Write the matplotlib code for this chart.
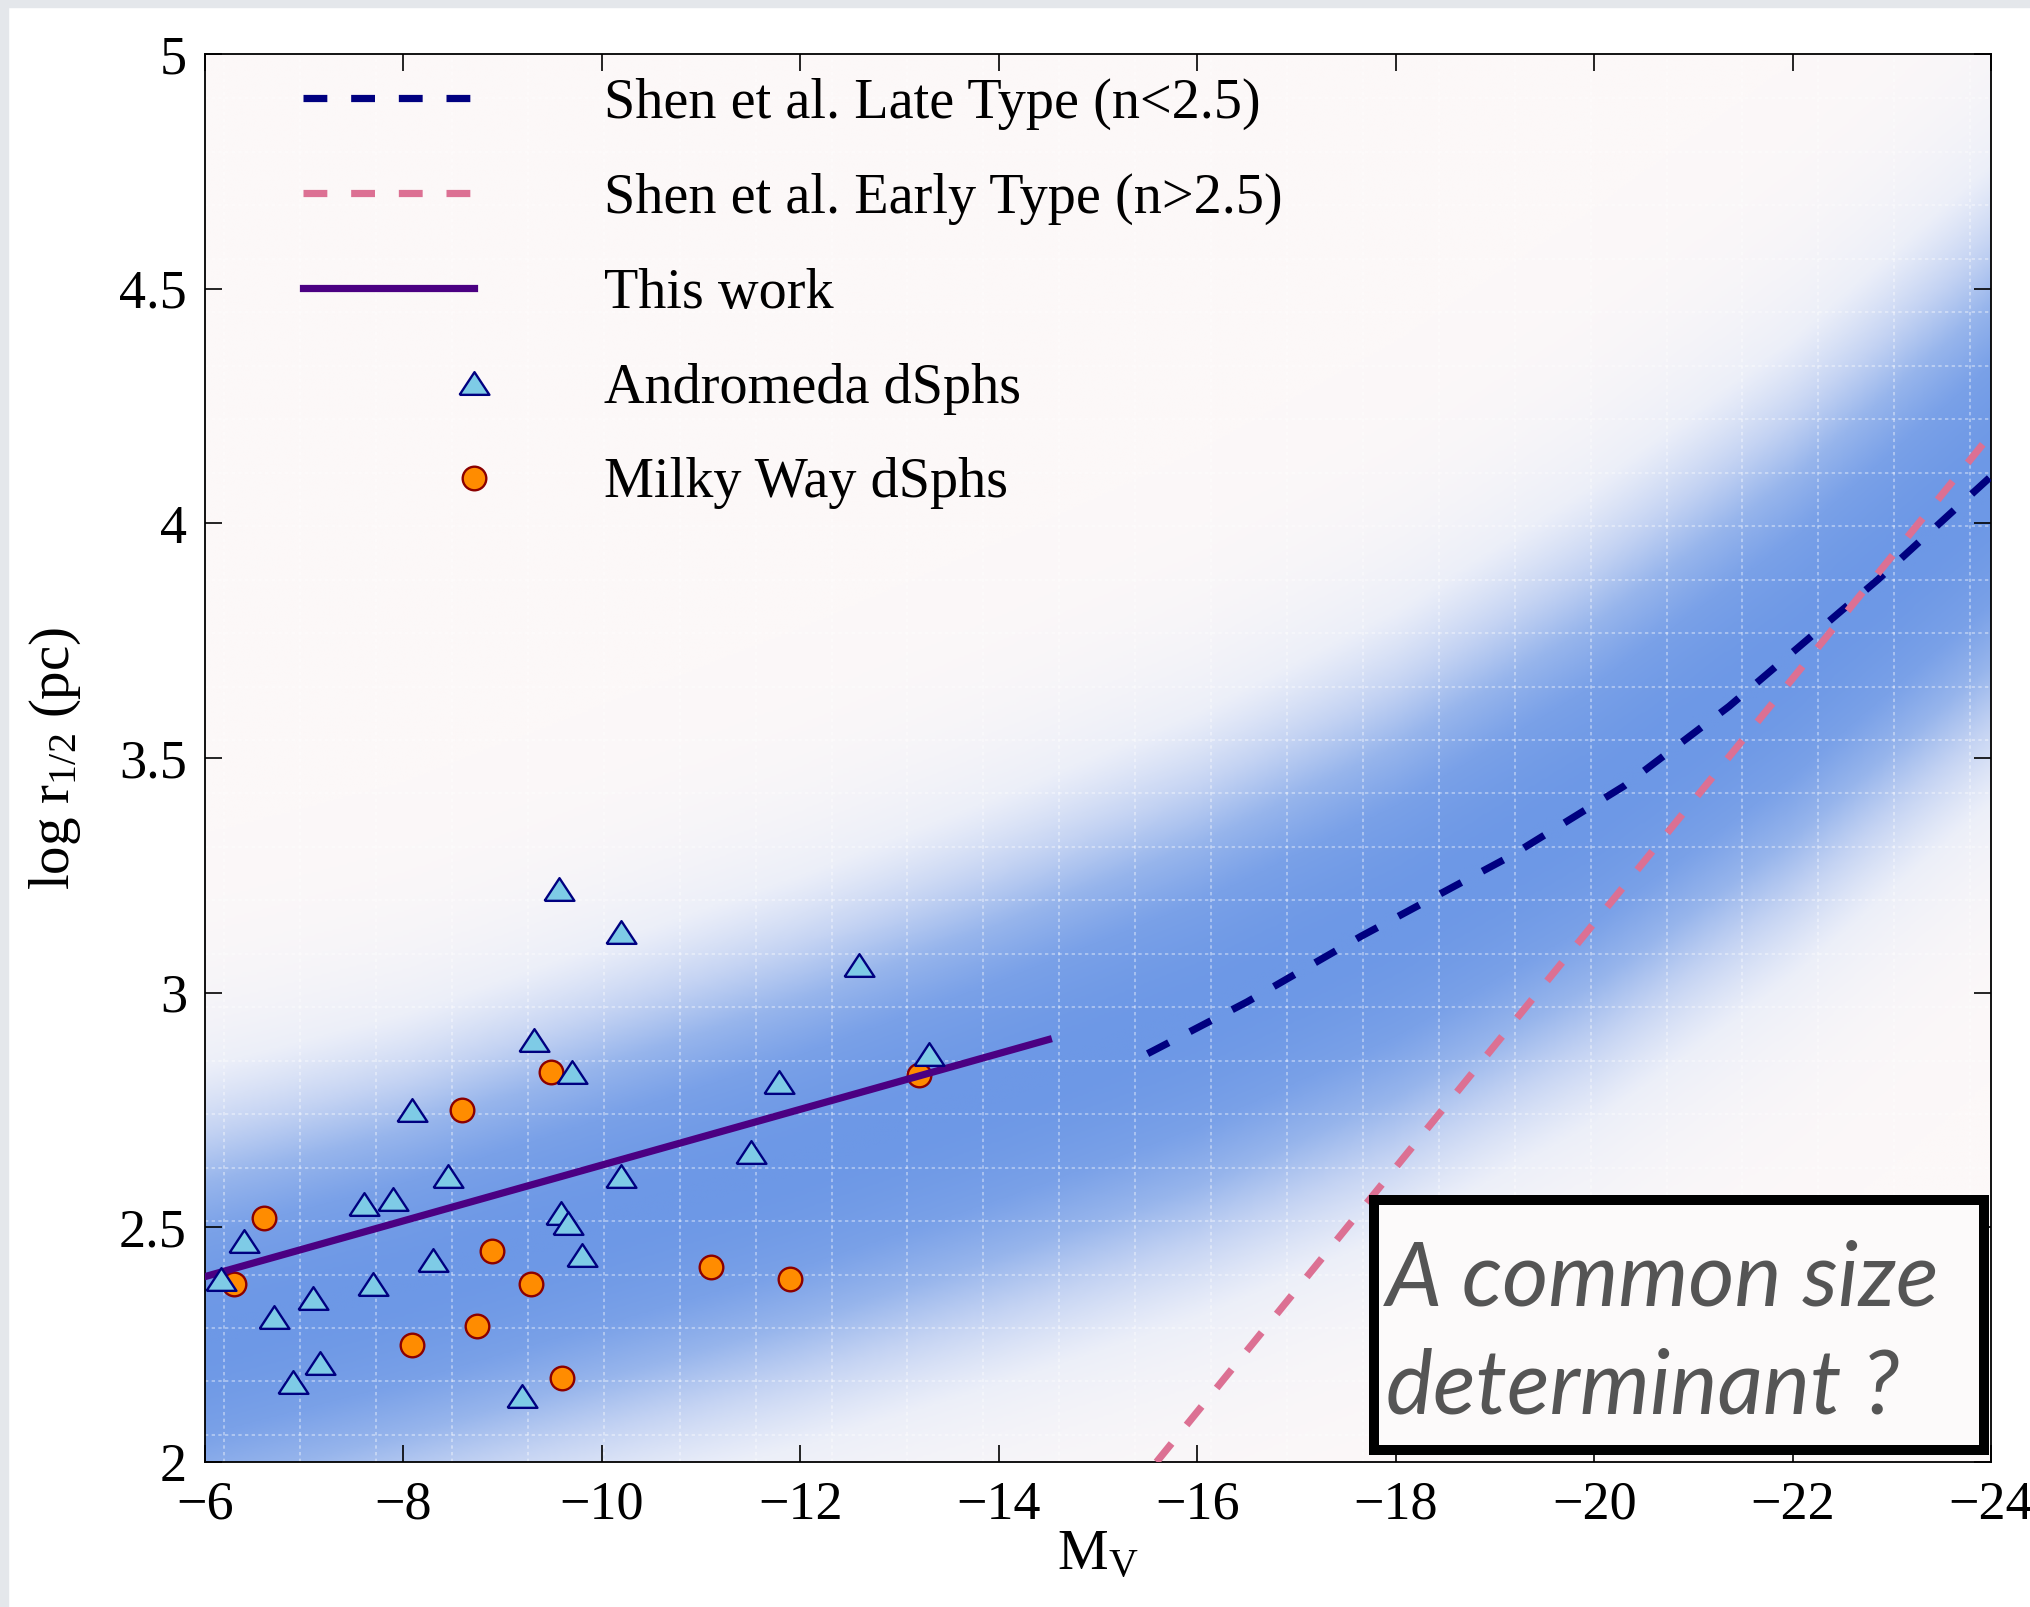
import numpy as np
import matplotlib
matplotlib.use('Agg')
import matplotlib.pyplot as plt
from matplotlib.colors import LinearSegmentedColormap
from matplotlib.legend_handler import HandlerLine2D
from matplotlib.lines import Line2D
from matplotlib.patches import Rectangle

plt.rcParams['font.family'] = ['Liberation Serif', 'DejaVu Serif']
plt.rcParams['mathtext.fontset'] = 'custom'
plt.rcParams['mathtext.rm'] = 'Liberation Serif'
plt.rcParams['mathtext.it'] = 'Liberation Serif:italic'

# Andromeda dSphs (M_V, log r_1/2)
m31_mv = [-9.57, -10.19, -9.32, -9.70, -8.09, -8.45, -7.89, -7.60, -10.19, -9.59,
          -9.66, -6.39, -8.30, -9.80, -6.16, -7.69, -7.09, -6.70, -7.16, -6.89,
          -9.19, -11.79, -12.59, -11.50, -13.30]
m31_lr = [3.22, 3.13, 2.90, 2.83, 2.75, 2.61, 2.56, 2.55, 2.61, 2.53,
          2.51, 2.47, 2.43, 2.44, 2.39, 2.38, 2.35, 2.31, 2.21, 2.17,
          2.14, 2.81, 3.06, 2.66, 2.87]

# Milky Way dSphs
mw_mv = [-6.29, -6.59, -8.09, -8.59, -8.74, -8.89, -9.29, -9.49, -9.60, -11.10, -11.90, -13.20]
mw_lr = [2.38, 2.52, 2.25, 2.75, 2.29, 2.45, 2.38, 2.83, 2.18, 2.415, 2.39, 2.825]

# relations
work_mv = [-6.0, -14.5]
work_lr = [2.395, 2.90]
late_mv = [-15.5, -16.5, -17.65, -19.15, -20.3, -21.36, -22.86, -24.0]
late_lr = [2.87, 2.98, 3.12, 3.29, 3.44, 3.61, 3.88, 4.10]
early_mv = [-15.59, -24.0]
early_lr = [2.0, 4.19]

# background density band (ridge and width)
band_mv = [-6, -8, -10, -12, -14, -16, -18, -20, -22, -24]
band_mid = [2.27, 2.38, 2.51, 2.64, 2.79, 2.95, 3.15, 3.40, 3.71, 4.08]
band_sig = [0.32, 0.32, 0.33, 0.34, 0.35, 0.36, 0.37, 0.38, 0.38, 0.38]

xticks = [-6, -8, -10, -12, -14, -16, -18, -20, -22, -24]
xlabels = ['\u22126', '\u22128', '\u221210', '\u221212', '\u221214', '\u221216',
           '\u221218', '\u221220', '\u221222', '\u221224']
yticks = [2, 2.5, 3, 3.5, 4, 4.5, 5]
ylabels = ['2', '2.5', '3', '3.5', '4', '4.5', '5']

W, H = 2031, 1607
fig = plt.figure(figsize=(W / 100, H / 100), dpi=100)
fig.patches.append(Rectangle((0, 1 - 7 / H), 1, 7 / H, transform=fig.transFigure,
                             color='#e4e7eb', zorder=0))
fig.patches.append(Rectangle((0, 0), 8 / W, 1, transform=fig.transFigure,
                             color='#e4e7eb', zorder=0))

ax = fig.add_axes([205 / W, 1 - 1462 / H, 1786 / W, 1408 / H])

# density band
gx = np.linspace(-6, -24, 600)
gy = np.linspace(2, 5, 600)
mid = np.interp(-gx, -np.array(band_mv), band_mid)
sig = np.interp(-gx, -np.array(band_mv), band_sig)
Z = np.exp(-0.5 * ((gy[:, None] - mid[None, :]) / sig[None, :]) ** 2)
band_cmap = LinearSegmentedColormap.from_list(
    'band', ['#fcf8f8', '#eceff9', '#c4d3f3', '#97b5ec', '#7aa1e8', '#6d98e6'])
ax.imshow(Z, extent=(-6, -24, 2, 5), origin='lower', aspect='auto', cmap=band_cmap,
          vmin=0, vmax=1, interpolation='bilinear', zorder=0)

# faint rendering grid seen on the band
for k in range(24):
    ax.axvline(-6.195 - 0.765 * k, color='white', lw=1.2, alpha=0.45,
               ls=(0, (2, 2)), zorder=0.5)
for k in range(-8, 19):
    ax.axhline(2.855 + 0.1139 * k, color='white', lw=1.2, alpha=0.45,
               ls=(0, (2, 2)), zorder=0.5)

ax.plot(late_mv, late_lr, color='#000080', lw=5.2, dashes=(3.3, 3.3),
        label='Shen et al. Late Type (n<2.5)', zorder=3)
ax.plot(early_mv, early_lr, color='#dc7093', lw=5.2, dashes=(3.3, 3.3),
        label='Shen et al. Early Type (n>2.5)', zorder=3)
ax.plot(work_mv, work_lr, color='#4b0082', lw=5.2, label='This work', zorder=4)

tri = [(-1, -0.76), (1, -0.76), (0, 0.76), (-1, -0.76)]
h_m31, = ax.plot(m31_mv, m31_lr, ls='none', marker=tri, ms=21.5, mfc='#7ecbe6',
                 mec='#000080', mew=1.7, label='Andromeda dSphs', zorder=5)
h_mw, = ax.plot(mw_mv, mw_lr, ls='none', marker='o', ms=17, mfc='#ff8c00',
                mec='#8b0000', mew=1.7, label='Milky Way dSphs', zorder=3.5)

ax.set_xlim(-6, -24)
ax.set_ylim(2, 5)
ax.set_xticks(xticks)
ax.set_xticklabels(xlabels)
ax.set_yticks(yticks)
ax.set_yticklabels(ylabels)
ax.tick_params(direction='in', length=12, width=1.2, top=True, right=True,
               labelsize=39, pad=13)
for s in ax.spines.values():
    s.set_linewidth(1.3)

ax.set_xlabel(r'$\mathrm{M_V}$', fontsize=41, labelpad=0)
ax.set_ylabel(r'$\mathrm{log\ r_{1/2}\ (pc)}$', fontsize=41, labelpad=26)


class RightMarker(HandlerLine2D):
    # MATLAB-style legend: marker sits at the right end of the handle area
    def create_artists(self, legend, orig_handle, xdescent, ydescent, width,
                       height, fontsize, trans):
        mark = Line2D([-xdescent + width], [(height - ydescent) / 2])
        self.update_prop(mark, orig_handle, legend)
        mark.set_transform(trans)
        return [mark]


handles, labels = ax.get_legend_handles_labels()
leg = ax.legend(handles, labels, loc='upper left', bbox_to_anchor=(0.055, 0.983),
                frameon=False, fontsize=40.5, handlelength=3.04, handletextpad=2.3,
                labelspacing=0.76, borderpad=0, borderaxespad=0, numpoints=1,
                handler_map={h_m31: RightMarker(), h_mw: RightMarker()})

# annotation box
ax.add_patch(Rectangle((0.6545, 0.0085), 0.3416, 0.1776, transform=ax.transAxes,
                       facecolor='#fcfafa', edgecolor='black', lw=7.2, zorder=6,
                       clip_on=False))
ax.text(0.6613, 0.1115, 'A common size', transform=ax.transAxes, fontsize=64,
        family='Lato', style='italic', color='#555555', va='baseline', zorder=7)
ax.text(0.6613, 0.0348, 'determinant ?', transform=ax.transAxes, fontsize=64,
        family='Lato', style='italic', color='#555555', va='baseline', zorder=7)

fig.savefig('out.png', dpi=100)
